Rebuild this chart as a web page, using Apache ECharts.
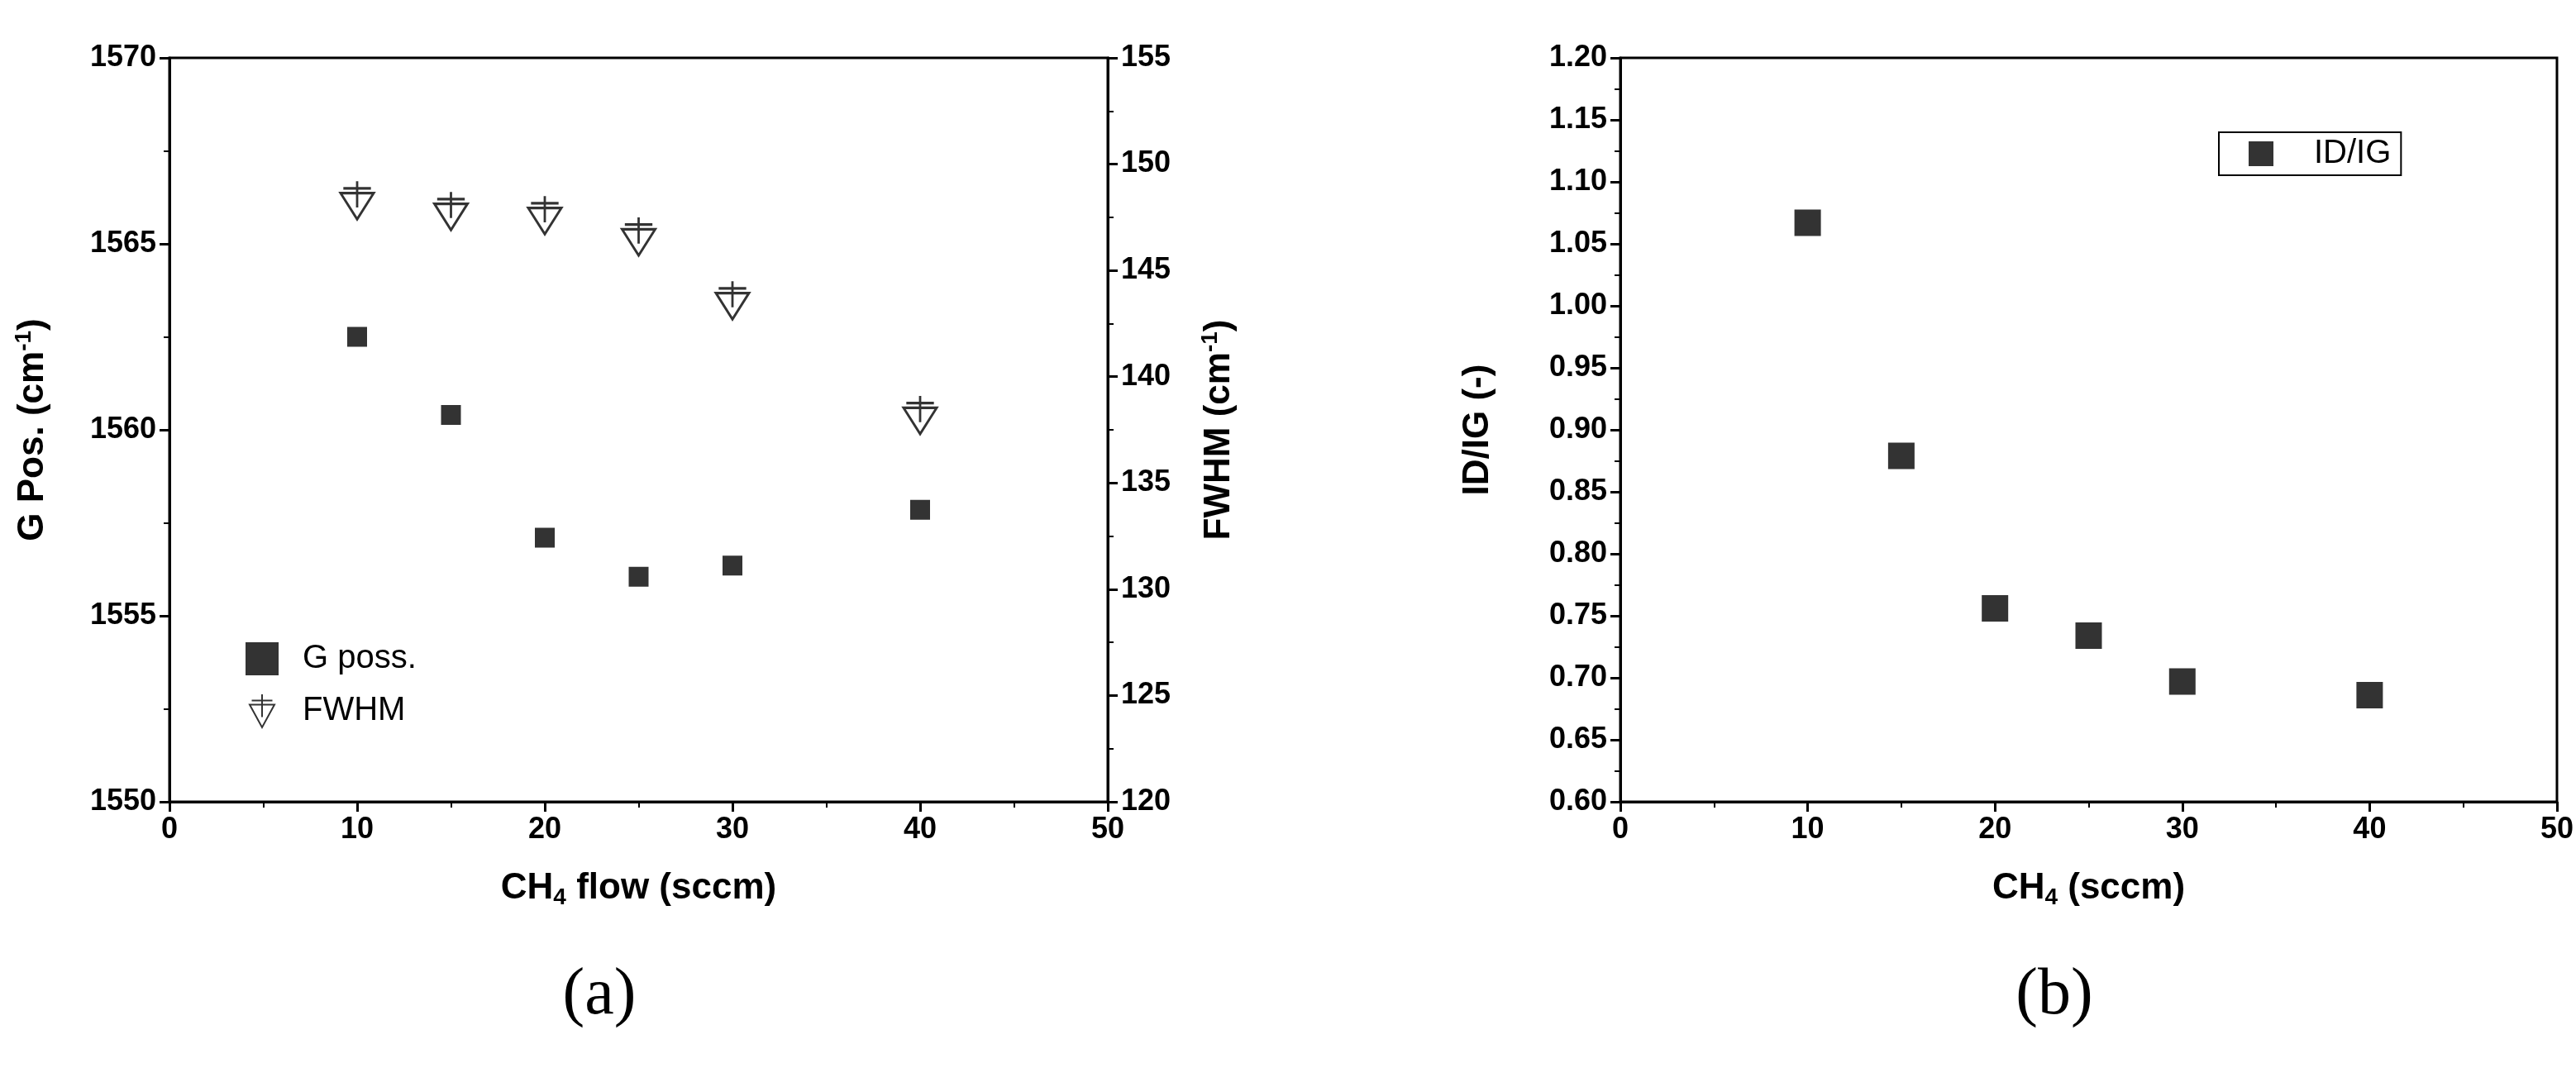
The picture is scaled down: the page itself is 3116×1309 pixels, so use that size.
<!DOCTYPE html>
<html><head><meta charset="utf-8">
<script src="https://cdn.jsdelivr.net/npm/echarts@6/dist/echarts.min.js"></script>
<style>html,body{margin:0;background:#fff}#c{width:3116px;height:1309px}</style>
</head><body><div id="c"></div>
<script>
const flow = [10, 15, 20, 25, 30, 40];
const gPos = [1562.5, 1560.4, 1557.1, 1556.05, 1556.35, 1557.85];
const fwhm = [148.3, 147.8, 147.6, 146.6, 143.6, 138.2];
const idig = [1.067, 0.879, 0.756, 0.734, 0.697, 0.686];

const F = '"Liberation Sans Narrow","Arial Narrow","Liberation Sans",Arial,sans-serif';
const pairs = (xs, ys) => xs.map((x, i) => [x, ys[i]]);
const fwhmSym = 'path://M0,10 L24,10 L12,32 Z M12,0 L12,22 M2,6 L22,6';

function xAxis(gi, nameRich) {
  return {
    gridIndex: gi, type: 'value', min: 0, max: 50, interval: 10,
    axisLine: {onZero: false, lineStyle: {color: '#000', width: 3}},
    axisTick: {show: true, length: 12, lineStyle: {color: '#000', width: 3}},
    minorTick: {show: true, splitNumber: 2, length: 7, lineStyle: {color: '#000', width: 2}},
    splitLine: {show: false},
    axisLabel: {color: '#000', fontFamily: F, fontWeight: 'bold', fontSize: 36, margin: 16},
    name: nameRich, nameLocation: 'middle', nameGap: 80,
    nameTextStyle: {color: '#000', fontFamily: F, fontWeight: 'bold', fontSize: 44,
      rich: {s: {fontFamily: F, fontWeight: 'bold', fontSize: 28, padding: [22, 0, 0, 0], color: '#000'},
             n: {fontFamily: F, fontWeight: 'bold', fontSize: 44, color: '#000'}}}
  };
}
function yAxis(gi, min, max, interval, pos, name, dec, gap) {
  return {
    gridIndex: gi, type: 'value', min, max, interval, position: pos,
    axisLine: {show: true, onZero: false, lineStyle: {color: '#000', width: 3}},
    axisTick: {show: true, length: 12, lineStyle: {color: '#000', width: 3}},
    minorTick: {show: true, splitNumber: 2, length: 7, lineStyle: {color: '#000', width: 2}},
    splitLine: {show: false},
    axisLabel: {color: '#000', fontFamily: F, fontWeight: 'bold', fontSize: 36, margin: 16,
      formatter: v => v.toFixed(dec)},
    name, nameLocation: 'middle', nameGap: gap,
    nameTextStyle: {color: '#000', fontFamily: F, fontWeight: 'bold', fontSize: 44,
      rich: {p: {fontFamily: F, fontWeight: 'bold', fontSize: 28, padding: [0, 0, 22, 0], color: '#000'},
             n: {fontFamily: F, fontWeight: 'bold', fontSize: 44, color: '#000'}}}
  };
}

const chart = echarts.init(document.getElementById('c'));
chart.setOption({
  backgroundColor: '#fff',
  animation: false,
  title: [
    {text: '(a)', left: 720, top: 1200, textAlign: 'center', textVerticalAlign: 'middle', textStyle: {fontFamily: '"Liberation Serif","DejaVu Serif",serif', fontWeight: 'normal', fontSize: 80, color: '#000'}},
    {text: '(b)', left: 2480, top: 1200, textAlign: 'center', textVerticalAlign: 'middle', textStyle: {fontFamily: '"Liberation Serif","DejaVu Serif",serif', fontWeight: 'normal', fontSize: 80, color: '#000'}}
  ],
  grid: [
    {left: 205, top: 70, width: 1135, height: 900, show: true, borderColor: '#000', borderWidth: 3},
    {left: 1960, top: 70, width: 1135, height: 900, show: true, borderColor: '#000', borderWidth: 3}
  ],
  legend: [
    {data: ['G poss.', 'FWHM'], orient: 'vertical', left: 292, top: 772, itemGap: 22,
     itemWidth: 40, itemHeight: 40, textStyle: {fontFamily: F, fontSize: 40, color: '#000', padding: [0, 0, 0, 24]}},
    {data: ['ID/IG'], left: 2684, top: 160, padding: [6, 12, 6, 36], borderColor: '#000', borderWidth: 2,
     itemWidth: 30, itemHeight: 30, textStyle: {fontFamily: F, fontSize: 40, color: '#000', padding: [0, 0, 0, 44]}}
  ],
  xAxis: [xAxis(0, '{n|CH}{s|4}{n| flow (sccm)}'), xAxis(1, '{n|CH}{s|4}{n| (sccm)}')],
  yAxis: [
    yAxis(0, 1550, 1570, 5, 'left', '{n|G Pos. (cm}{p|-1}{n|)}', 0, 140),
    yAxis(0, 120, 155, 5, 'right', '{n|FWHM (cm}{p|-1}{n|)}', 0, 110),
    yAxis(1, 0.6, 1.2, 0.05, 'left', 'ID/IG (-)', 2, 150)
  ],
  series: [
    {name: 'G poss.', type: 'scatter', xAxisIndex: 0, yAxisIndex: 0, symbol: 'rect', symbolSize: 24,
     itemStyle: {color: '#000'}, data: pairs(flow, gPos)},
    {name: 'FWHM', type: 'scatter', xAxisIndex: 0, yAxisIndex: 1, symbol: fwhmSym, symbolSize: [40, 46],
     itemStyle: {color: '#fff', borderColor: '#000', borderWidth: 3}, data: pairs(flow, fwhm)},
    {name: 'ID/IG', type: 'scatter', xAxisIndex: 1, yAxisIndex: 2, symbol: 'rect', symbolSize: 32,
     itemStyle: {color: '#000'}, data: pairs(flow, idig)}
  ]
});
</script></body></html>
